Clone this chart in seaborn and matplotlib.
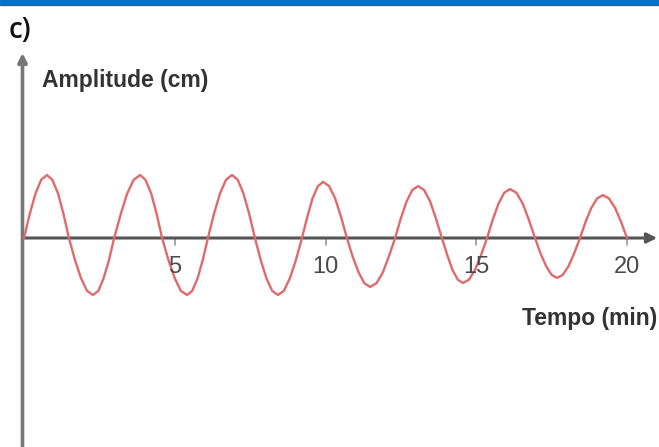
import numpy as np
import pandas as pd
import seaborn as sns
import matplotlib.pyplot as plt

# Readings of the curve off the picture: time (min) and amplitude (cm)
tempo = [
    0.00, 0.19, 0.38, 0.57, 0.76, 0.94, 1.13, 1.31,
    1.49, 1.69, 1.89, 2.09, 2.29, 2.47, 2.64, 2.82,
    2.99, 3.21, 3.42, 3.64, 3.85, 4.03, 4.22, 4.40,
    4.58, 4.79, 5.00, 5.20, 5.41, 5.58, 5.76, 5.93,
    6.10, 6.30, 6.50, 6.70, 6.90, 7.09, 7.28, 7.47,
    7.66, 7.85, 8.04, 8.23, 8.42, 8.62, 8.82, 9.02,
    9.22, 9.40, 9.57, 9.75, 9.92, 10.12, 10.32, 10.51,
    10.71, 10.90, 11.10, 11.29, 11.48, 11.69, 11.90, 12.10,
    12.31, 12.50, 12.69, 12.88, 13.07, 13.27, 13.47, 13.66,
    13.86, 14.04, 14.21, 14.39, 14.56, 14.76, 14.96, 15.16,
    15.36, 15.55, 15.74, 15.93, 16.12, 16.33, 16.54, 16.74,
    16.95, 17.13, 17.32, 17.50, 17.68, 17.87, 18.06, 18.25,
    18.44, 18.63, 18.82, 19.01, 19.20, 19.40, 19.60, 19.80,
    20.00,
]
amplitude = [
    0.00, 0.80, 1.48, 1.94, 2.10, 1.94, 1.48, 0.80,
    0.00, -0.73, -1.34, -1.76, -1.90, -1.76, -1.34, -0.73,
    0.00, 0.80, 1.48, 1.94, 2.10, 1.94, 1.48, 0.80,
    0.00, -0.73, -1.34, -1.76, -1.90, -1.76, -1.34, -0.73,
    0.00, 0.80, 1.48, 1.94, 2.10, 1.94, 1.48, 0.80,
    0.00, -0.73, -1.34, -1.76, -1.90, -1.76, -1.34, -0.73,
    0.00, 0.72, 1.32, 1.73, 1.87, 1.73, 1.32, 0.72,
    0.00, -0.62, -1.15, -1.51, -1.63, -1.51, -1.15, -0.62,
    0.00, 0.66, 1.22, 1.60, 1.73, 1.60, 1.22, 0.66,
    0.00, -0.57, -1.06, -1.39, -1.50, -1.39, -1.06, -0.57,
    0.00, 0.62, 1.15, 1.51, 1.63, 1.51, 1.15, 0.62,
    0.00, -0.51, -0.94, -1.23, -1.33, -1.23, -0.94, -0.51,
    0.00, 0.55, 1.01, 1.32, 1.43, 1.32, 1.01, 0.55,
    0.00,
]
ticks = [5, 10, 15, 20]
tick_labels = ["5", "10", "15", "20"]

df = pd.DataFrame({"tempo": tempo, "amplitude": amplitude})

sns.set_style("white")
plt.rcParams['font.family'] = ['Liberation Sans', 'DejaVu Sans']

fig = plt.figure(figsize=(6.59, 4.47), dpi=100)
ax = fig.add_axes([0, 0, 1, 1])

# pixel mapping: t=0 at x=24px, 30.15 px/min; y=0 at 238px from top, 30 px/cm
ax.set_xlim(-24 / 30.15, (659 - 24) / 30.15)
ax.set_ylim(-(447 - 238) / 30, 238 / 30)
for s in ax.spines.values():
    s.set_visible(False)
ax.set_xticks([])
ax.set_yticks([])

sns.lineplot(data=df, x="tempo", y="amplitude", color="#e06a6a", lw=1.7,
             sort=False, ax=ax, zorder=3)
ax.set_xlabel("")
ax.set_ylabel("")

axis_col = "#555555"
# horizontal axis with arrow
ax.annotate("", xy=(21.0, 0), xytext=(-0.05, 0),
            arrowprops=dict(arrowstyle="-|>", color=axis_col, lw=2.2,
                            mutation_scale=15, shrinkA=0, shrinkB=0), zorder=2)
# vertical axis with arrow
ax.annotate("", xy=(-0.05, (238 - 53) / 30), xytext=(-0.05, -7.2),
            arrowprops=dict(arrowstyle="-|>", color="#777777", lw=2.6,
                            mutation_scale=13, shrinkA=0, shrinkB=0), zorder=2)

for t, lab in zip(ticks, tick_labels):
    ax.plot([t, t], [0, -0.22], color="#999999", lw=1.2, zorder=1)
    ax.text(t, -0.6, lab, ha="center", va="top", fontsize=17, color="#4a4a4a")

ax.text(0.6, (238 - 80) / 30, "Amplitude (cm)", ha="left", va="center",
        fontsize=16.5, fontweight="bold", color="#333333")
ax.text(21.0, -(318 - 238) / 30, "Tempo (min)", ha="right", va="center",
        fontsize=16.5, fontweight="bold", color="#333333")

fig.text(9 / 659, 1 - 30 / 447, "c)", ha="left", va="center", fontsize=20,
         color="#111111", fontweight="semibold", family=["Open Sans", "DejaVu Sans"])

# blue band at top
fig.patches.append(plt.Rectangle((0, 1 - 5 / 447), 1, 5 / 447,
                                 transform=fig.transFigure, color="#0a6fbe"))

fig.savefig("out.png", dpi=100)
